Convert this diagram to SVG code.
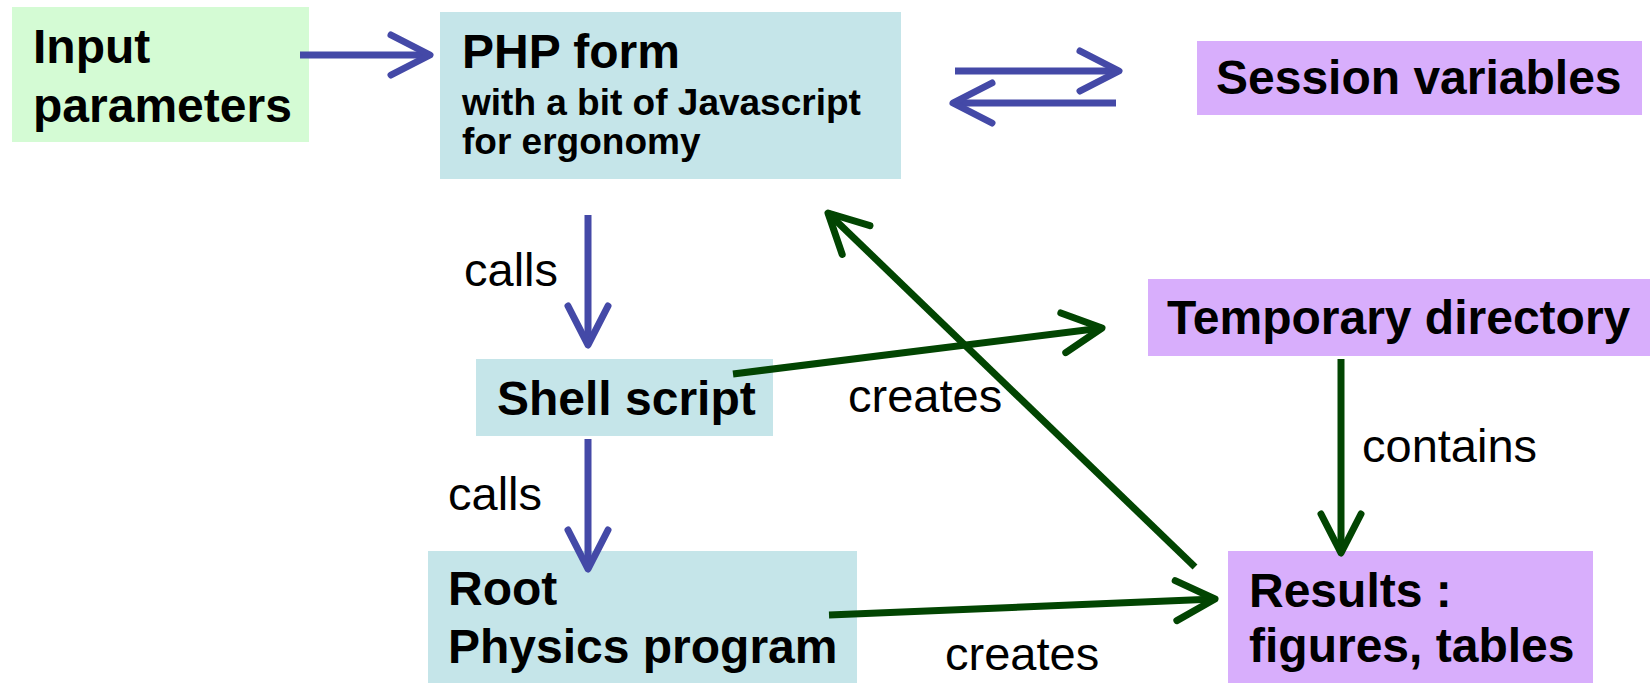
<svg xmlns="http://www.w3.org/2000/svg" width="1650" height="683" viewBox="0 0 1650 683">
<style>
.box-in{fill:#d4fbd4}
.box-c{fill:#c5e5e9}
.box-p{fill:#d8aefc}
.big{font-family:"Liberation Sans",Arial,sans-serif;font-weight:bold;font-size:48px;fill:#000}
.small{font-family:"Liberation Sans",Arial,sans-serif;font-weight:bold;font-size:37px;fill:#000}
.lbl{font-family:"Liberation Sans",Arial,sans-serif;font-size:47px;fill:#000}
.blue{stroke:#4449a7;stroke-width:7;fill:none}
.green{stroke:#024502;stroke-width:7;fill:none}
</style>
<defs>
<marker id="ab" markerUnits="userSpaceOnUse" orient="auto" markerWidth="60" markerHeight="60" viewBox="-50 -30 60 60" refX="0" refY="0" overflow="visible">
<path d="M-39,-20 L0,0 L-39,20" fill="none" stroke="#4449a7" stroke-width="7" stroke-linecap="round" stroke-linejoin="round"/>
</marker>
<marker id="ag" markerUnits="userSpaceOnUse" orient="auto" markerWidth="60" markerHeight="60" viewBox="-50 -30 60 60" refX="0" refY="0" overflow="visible">
<path d="M-39,-20 L0,0 L-39,20" fill="none" stroke="#024502" stroke-width="7" stroke-linecap="round" stroke-linejoin="round"/>
</marker>
</defs>

<g id="input">
<rect class="box-in" x="12" y="7" width="297" height="135"/>
<text class="big" x="33" y="63">Input</text>
<text class="big" x="33" y="122">parameters</text>
</g>

<g id="php">
<rect class="box-c" x="440" y="12" width="461" height="167"/>
<text class="big" x="462" y="68">PHP form</text>
<text class="small" x="462" y="115">with a bit of Javascript</text>
<text class="small" x="462" y="154">for ergonomy</text>
</g>

<g id="session">
<rect class="box-p" x="1197" y="41" width="445" height="74"/>
<text class="big" x="1216" y="94">Session variables</text>
</g>

<g id="shell">
<rect class="box-c" x="476" y="359" width="297" height="77"/>
<text class="big" x="497" y="415">Shell script</text>
</g>

<g id="temp">
<rect class="box-p" x="1148" y="279" width="502" height="77"/>
<text class="big" x="1167" y="334">Temporary directory</text>
</g>

<g id="root">
<rect class="box-c" x="428" y="551" width="429" height="132"/>
<text class="big" x="448" y="605">Root</text>
<text class="big" x="448" y="663">Physics program</text>
</g>

<g id="results">
<rect class="box-p" x="1228" y="551" width="365" height="132"/>
<text class="big" x="1249" y="607">Results :</text>
<text class="big" x="1249" y="662">figures, tables</text>
</g>

<g id="connectors">
<line class="blue" x1="300" y1="55" x2="430" y2="55" marker-end="url(#ab)"/>
<line class="blue" x1="955" y1="71" x2="1119" y2="71" marker-end="url(#ab)"/>
<line class="blue" x1="1116" y1="103" x2="953" y2="103" marker-end="url(#ab)"/>
<line class="blue" x1="588" y1="215" x2="588" y2="345" marker-end="url(#ab)"/>
<line class="blue" x1="588" y1="439" x2="588" y2="569" marker-end="url(#ab)"/>
<line class="green" x1="733" y1="374" x2="1102" y2="328" marker-end="url(#ag)"/>
<line class="green" x1="1195" y1="567" x2="828" y2="213" marker-end="url(#ag)"/>
<line class="green" x1="829" y1="615" x2="1215" y2="599" marker-end="url(#ag)"/>
<line class="green" x1="1341" y1="359" x2="1341" y2="553" marker-end="url(#ag)"/>
<text class="lbl" x="464" y="286">calls</text>
<text class="lbl" x="448" y="510">calls</text>
<text class="lbl" x="848" y="412">creates</text>
<text class="lbl" x="945" y="670">creates</text>
<text class="lbl" x="1362" y="462">contains</text>
</g>
</svg>
